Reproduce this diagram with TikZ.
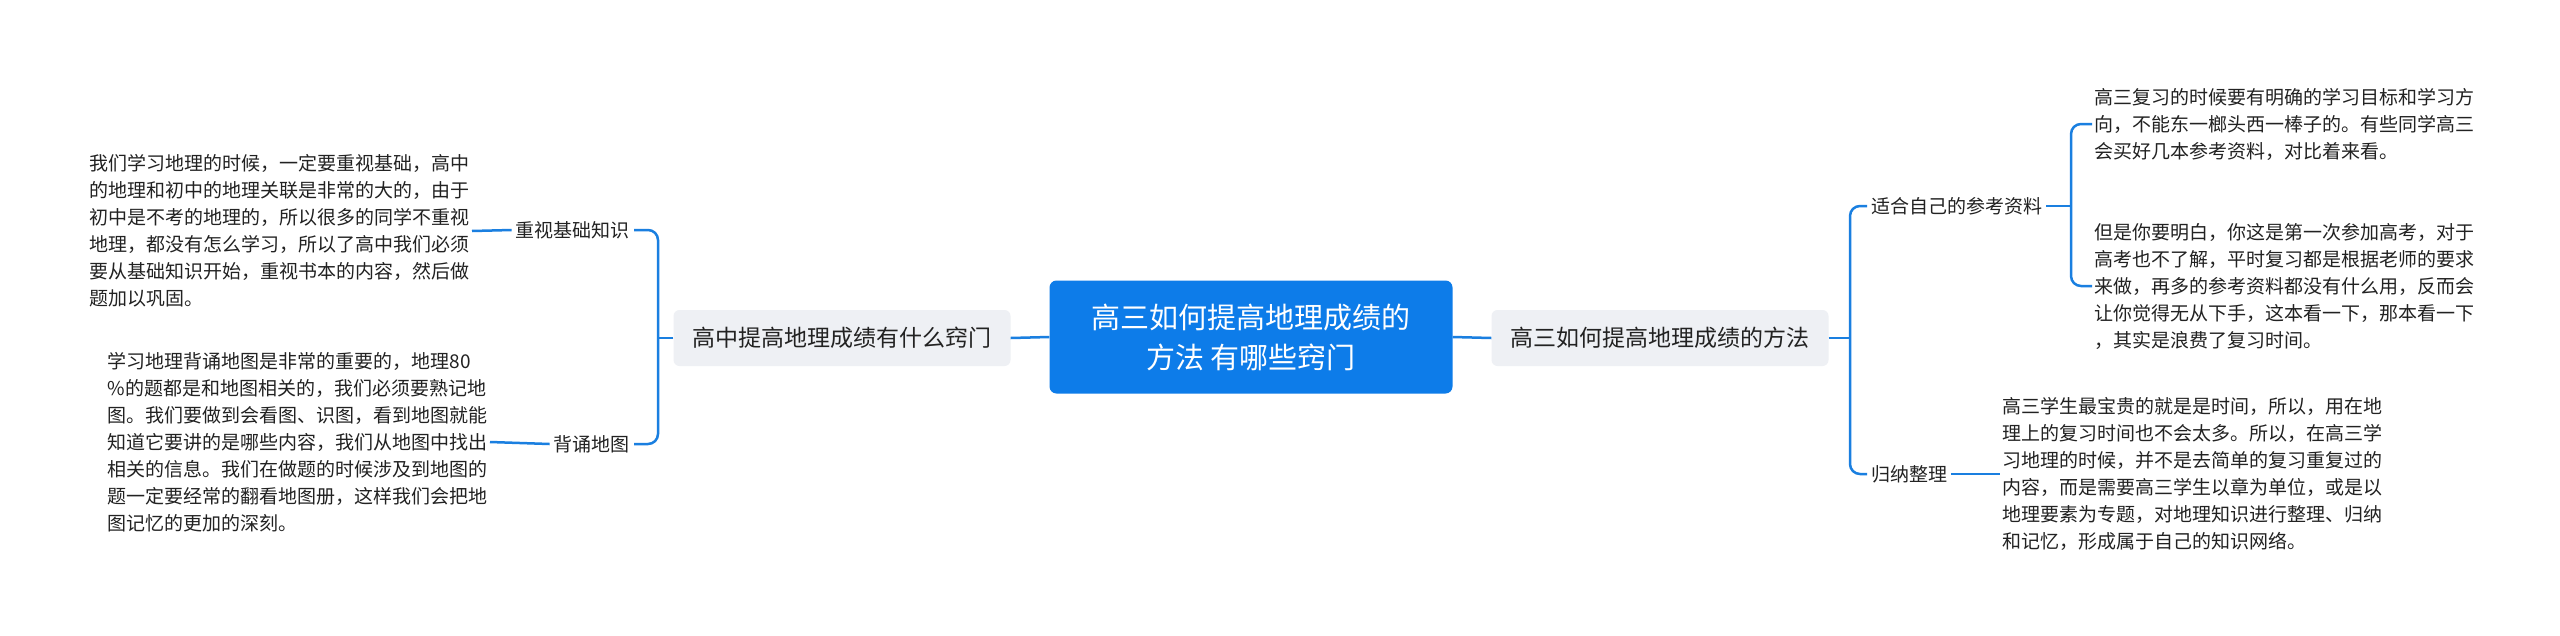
\documentclass[tikz,border=0pt]{standalone}
\usepackage{fontspec}
\setmainfont{Noto Sans CJK SC}
\definecolor{cblue}{HTML}{0D7CE9}
\definecolor{lblue}{HTML}{1A7FE0}
\definecolor{bgray}{HTML}{EEF0F4}
\definecolor{tgray}{HTML}{222222}
\begin{document}
\begin{tikzpicture}[x=1pt,y=-1pt,
  para/.style={align=left,font=\fontsize{19}{27}\selectfont,text=tgray,inner sep=2pt},
  leaf/.style={font=\fontsize{19}{23}\selectfont,text=tgray,inner sep=4pt},
  branch/.style={fill=bgray,rounded corners=6pt,font=\fontsize{23}{28}\selectfont,text=tgray,minimum width=337pt,minimum height=56pt},
  conn/.style={draw=lblue,line width=2.5pt,rounded corners=10pt}]
\useasboundingbox (0,0) rectangle (2560,635);
\fill[white] (0,0) rectangle (2560,635);
\node[fill=cblue,rounded corners=7pt,text=white,align=center,font=\fontsize{29}{40}\selectfont,minimum width=403pt,minimum height=113pt] (c) at (1251,337) {高三如何提高地理成绩的\\方法 有哪些窍门};
\node[branch] (L) at (842,338) {高中提高地理成绩有什么窍门};
\node[branch] (R) at (1660,338) {高三如何提高地理成绩的方法};
\node[leaf,anchor=east] (l1) at (634,230) {重视基础知识};
\node[leaf,anchor=east] (l2) at (634,444) {背诵地图};
\node[para,anchor=east] (p1) at (472,231) {我们学习地理的时候，一定要重视基础，高中\\的地理和初中的地理关联是非常的大的，由于\\初中是不考的地理的，所以很多的同学不重视\\地理，都没有怎么学习，所以了高中我们必须\\要从基础知识开始，重视书本的内容，然后做\\题加以巩固。};
\node[para,anchor=east] (p2) at (490,442) {学习地理背诵地图是非常的重要的，地理80\\\%的题都是和地图相关的，我们必须要熟记地\\图。我们要做到会看图、识图，看到地图就能\\知道它要讲的是哪些内容，我们从地图中找出\\相关的信息。我们在做题的时候涉及到地图的\\题一定要经常的翻看地图册，这样我们会把地\\图记忆的更加的深刻。};
\node[leaf,anchor=west] (r1) at (1867,206) {适合自己的参考资料};
\node[leaf,anchor=west] (r2) at (1867,474) {归纳整理};
\node[para,anchor=west] (q1) at (2092,124) {高三复习的时候要有明确的学习目标和学习方\\向，不能东一榔头西一棒子的。有些同学高三\\会买好几本参考资料，对比着来看。};
\node[para,anchor=west] (q2) at (2092,286) {但是你要明白，你这是第一次参加高考，对于\\高考也不了解，平时复习都是根据老师的要求\\来做，再多的参考资料都没有什么用，反而会\\让你觉得无从下手，这本看一下，那本看一下\\，其实是浪费了复习时间。};
\node[para,anchor=west] (q3) at (2000,474) {高三学生最宝贵的就是是时间，所以，用在地\\理上的复习时间也不会太多。所以，在高三学\\习地理的时候，并不是去简单的复习重复过的\\内容，而是需要高三学生以章为单位，或是以\\地理要素为专题，对地理知识进行整理、归纳\\和记忆，形成属于自己的知识网络。};
\coordinate (lb) at (658,338);
\coordinate (rb) at (1850,338);
\coordinate (rb2) at (2071,206);
\draw[conn] (c.west) -- (L.east);
\draw[conn] (c.east) -- (R.east -| R.west);
\draw[conn] (L.west) -- (lb);
\draw[conn] (l1.east) -- (lb |- l1.east) -- (lb |- l2.east) -- (l2.east);
\draw[conn] (R.east) -- (rb);
\draw[conn] (r1.west) -- (rb |- r1.west) -- (rb |- r2.west) -- (r2.west);
\draw[conn] (r1.east) -- (rb2);
\draw[conn] (q1.west) -- (rb2 |- q1.west) -- (rb2 |- q2.west) -- (q2.west);
\draw[conn] (r2.east) -- (q3.west);
\draw[conn] (p1.east) -- (l1.west);
\draw[conn] (p2.east) -- (l2.west);
\end{tikzpicture}
\end{document}
